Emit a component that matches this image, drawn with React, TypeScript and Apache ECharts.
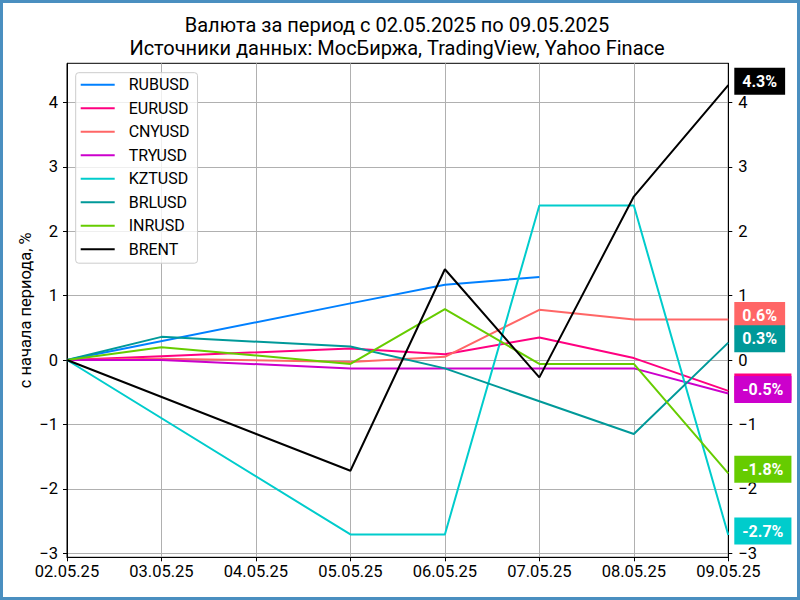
import { useEffect, useRef } from "react";
import * as echarts from "echarts";

const dates = ["02.05.25", "03.05.25", "04.05.25", "05.05.25", "06.05.25", "07.05.25", "08.05.25", "09.05.25"];

// % change since start of period; null = no quote that day
const rubusd = [0, null, null, 0.88, 1.17, 1.29, null, null];
const eurusd = [0, 0.06, null, 0.18, 0.09, 0.35, 0.03, -0.48];
const cnyusd = [0, 0.02, null, -0.03, 0.05, 0.78, 0.63, 0.63];
const tryusd = [0, 0.0, null, -0.13, -0.13, -0.13, -0.13, -0.52];
const kztusd = [0, null, null, -2.71, -2.71, 2.4, 2.4, -2.72];
const brlusd = [0, 0.36, null, 0.21, -0.13, -0.64, -1.15, 0.27];
const inrusd = [0, 0.2, null, -0.06, 0.79, -0.06, -0.06, -1.76];
const brent = [0, null, null, -1.72, 1.41, -0.27, 2.54, 4.27];

const yTicks = [-3, -2, -1, 0, 1, 2, 3, 4];

const seriesDefs = [
  { name: "RUBUSD", color: "#0080ff", data: rubusd, label: false },
  { name: "EURUSD", color: "#ff0080", data: eurusd, label: true },
  { name: "CNYUSD", color: "#ff6666", data: cnyusd, label: true },
  { name: "TRYUSD", color: "#cc00cc", data: tryusd, label: true },
  { name: "KZTUSD", color: "#00cccc", data: kztusd, label: true },
  { name: "BRLUSD", color: "#009999", data: brlusd, label: true },
  { name: "INRUSD", color: "#66cc00", data: inrusd, label: true },
  { name: "BRENT", color: "#000000", data: brent, label: true },
];

const FONT = "Roboto";

const fmtTick = (v: number) => (v < 0 ? "\u2212" + Math.abs(v) : String(v));

const App = () => {
  const chartRef = useRef<HTMLDivElement>(null);

  useEffect(() => {
    document.body.style.margin = "0";
    if (!chartRef.current) return;
    const chart = echarts.init(chartRef.current, undefined, { renderer: "svg" });

    const yAxisBase = {
      type: "value" as const,
      min: -3.065,
      max: 4.61,
      splitNumber: 7,
      axisLine: { show: true, lineStyle: { color: "#000", width: 1 } },
      axisTick: { show: true, length: 4, customValues: yTicks, lineStyle: { color: "#000" } },
      axisLabel: {
        customValues: yTicks,
        formatter: fmtTick,
        fontSize: 16.5,
        color: "#000",
        fontFamily: FONT,
      },
    };

    chart.setOption({
      animation: false,
      backgroundColor: "#fff",
      title: {
        text: "Валюта за период с 02.05.2025 по 09.05.2025\nИсточники данных: МосБиржа, TradingView, Yahoo Finace",
        left: 394,
        top: 10,
        textAlign: "center",
        padding: 0,
        textStyle: { fontSize: 20, lineHeight: 23, fontWeight: "normal", color: "#000", fontFamily: FONT },
      },
      legend: {
        orient: "vertical",
        left: 72.7,
        top: 69.7,
        padding: [3, 8, 5, 5],
        itemGap: 5.5,
        itemWidth: 34,
        itemHeight: 2,
        icon: "rect",
        backgroundColor: "rgba(255,255,255,0.8)",
        borderColor: "#cccccc",
        borderWidth: 1,
        borderRadius: 3,
        textStyle: { fontSize: 16, lineHeight: 18, color: "#000", fontFamily: FONT, padding: [0, 0, 0, 9] },
        data: seriesDefs.map((s) => s.name),
      },
      grid: {
        left: 64,
        right: 68.7,
        top: 60.3,
        bottom: 39.7,
        show: true,
        borderColor: "#000",
        borderWidth: 1,
        backgroundColor: "transparent",
      },
      xAxis: {
        type: "category",
        data: dates,
        boundaryGap: false,
        axisLine: { onZero: false, lineStyle: { color: "#000", width: 1 } },
        axisTick: { show: true, length: 4, alignWithLabel: true, lineStyle: { color: "#000" } },
        axisLabel: { fontSize: 16.5, color: "#000", fontFamily: FONT, margin: 6, interval: 0 },
        splitLine: { show: true, lineStyle: { color: "#b0b0b0", width: 1 } },
      },
      yAxis: [
        {
          ...yAxisBase,
          position: "left",
          name: "с начала периода, %",
          nameLocation: "middle",
          nameGap: 33,
          nameMoveOverlap: false,
          nameTextStyle: { fontSize: 16.5, color: "#000", fontFamily: FONT },
          axisLabel: { ...yAxisBase.axisLabel, margin: 9 },
          splitLine: { show: true, lineStyle: { color: "#b0b0b0", width: 1 } },
        },
        {
          ...yAxisBase,
          position: "right",
          axisLabel: { ...yAxisBase.axisLabel, margin: 10 },
          splitLine: { show: false },
        },
      ],
      series: seriesDefs.map((s) => ({
        name: s.name,
        type: "line",
        data: s.data,
        connectNulls: true,
        showSymbol: false,
        symbol: "none",
        color: s.color,
        lineStyle: { color: s.color, width: 2 },
        endLabel: {
          show: s.label,
          distance: 6,
          offset: [0, -4],
          formatter: (p: { value: number }) => `${Number(p.value).toFixed(1)}%`,
          backgroundColor: s.color,
          color: "#fff",
          fontWeight: "bold",
          fontSize: 16,
          lineHeight: 19,
          fontFamily: FONT,
          padding: [4, 8, 4, 8],
        },
      })),
    });

    return () => chart.dispose();
  }, []);

  return (
    <div style={{ width: 800, height: 600, boxSizing: "border-box", border: "3px solid #4a8fc0", background: "#fff" }}>
      <div ref={chartRef} style={{ width: 794, height: 594 }} />
    </div>
  );
};

export default App;
